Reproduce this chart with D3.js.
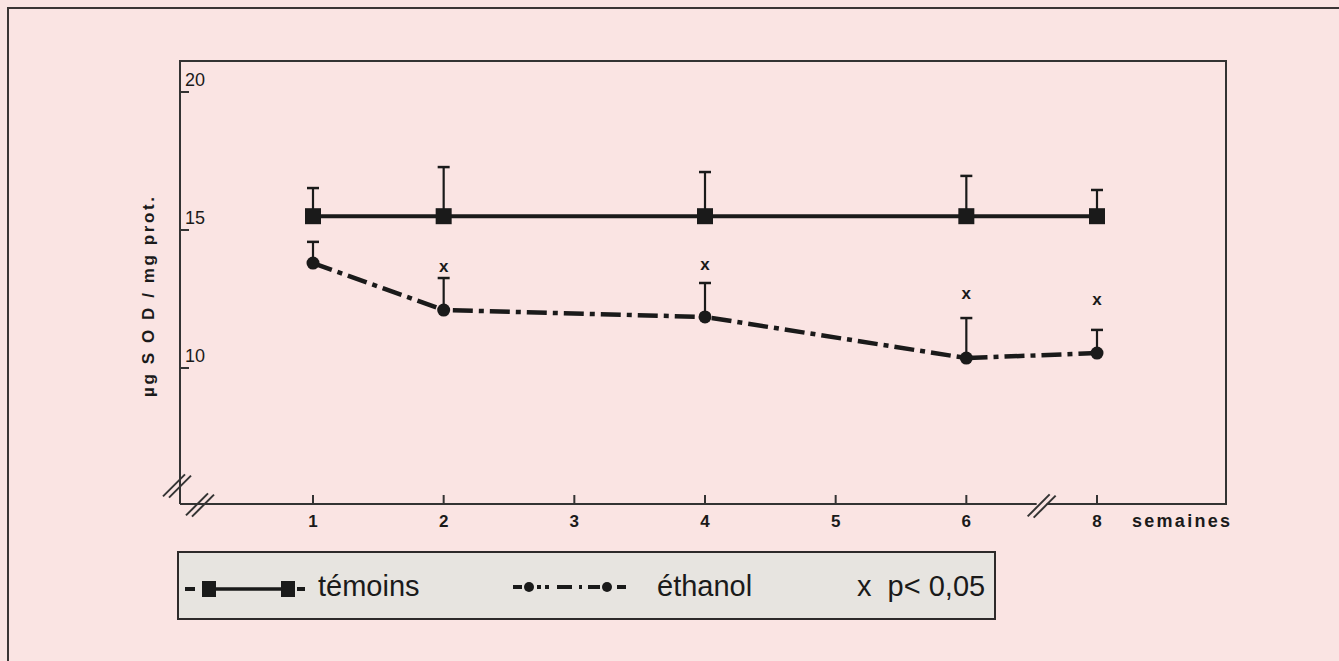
<!DOCTYPE html>
<html>
<head>
<meta charset="utf-8">
<script src="https://cdn.jsdelivr.net/npm/d3@7/dist/d3.min.js"></script>
<style>
  html, body { margin: 0; padding: 0; background: #fae4e3; }
  svg { display: block; }
</style>
</head>
<body>
<svg id="chart" width="1339" height="661"></svg>
<script>
// ---- data ----
const categories = ["1", "2", "3", "4", "5", "6", "8"];     // weeks (axis, with break 6→8)
const weeks = ["1", "2", "4", "6", "8"];                     // measured weeks
const temoins = [15.5, 15.5, 15.5, 15.5, 15.5];
const temoinsErr = [16.52, 17.28, 17.1, 16.96, 16.45];      // top of error bars
const ethanol = [13.8, 12.1, 11.85, 10.36, 10.54];
const ethanolErr = [14.57, 13.26, 13.08, 11.81, 11.38];      // top of error bars
const sigWeeks = ["2", "4", "6", "8"];
const sigY = [13.66, 13.73, 12.68, 12.46];                   // position of "x" marks
const yTicks = [10, 15, 20];
const yLabel = "µg S O D / mg prot.";
const xLabel = "semaines";
const legendLabels = ["témoins", "éthanol", "x  p< 0,05"];

// ---- layout ----
const svg = d3.select("#chart");
const L = 180, R = 1226, T = 61, B = 504;
const x = d3.scalePoint().domain(categories).range([313, 1097]);
const y = d3.scaleLinear().domain([5, 20]).range([506, 92]);
const ink = "#1a1a1a";

// outer frame
svg.append("rect").attr("x", 8).attr("y", 8).attr("width", 1345).attr("height", 670)
  .attr("fill", "#fae4e3").attr("stroke", "#3a3535").attr("stroke-width", 2);

// plot box (top + right) and axes
svg.append("path")
  .attr("d", `M${L},${B} L${L},${T} L${R},${T} L${R},${B} L${L},${B}`)
  .attr("fill", "none").attr("stroke", "#333").attr("stroke-width", 2);

// y ticks (inward) and labels
const yAxis = svg.append("g");
yAxis.selectAll("line").data(yTicks).join("line")
  .attr("x1", L).attr("x2", L + 9)
  .attr("y1", d => y(d)).attr("y2", d => y(d))
  .attr("stroke", "#333").attr("stroke-width", 2);
yAxis.selectAll("text").data(yTicks).join("text")
  .attr("x", L + 5).attr("y", d => y(d) - 6)
  .attr("font-family", "Liberation Sans, Arial, sans-serif")
  .attr("font-size", 18).attr("fill", ink)
  .text(d => d);

// x ticks (upward) and labels
const xAxis = svg.append("g");
xAxis.selectAll("line").data(categories).join("line")
  .attr("x1", d => x(d)).attr("x2", d => x(d))
  .attr("y1", B).attr("y2", B - 9)
  .attr("stroke", "#333").attr("stroke-width", 2);
xAxis.selectAll("text").data(categories).join("text")
  .attr("x", d => x(d)).attr("y", 527)
  .attr("text-anchor", "middle")
  .attr("font-family", "Liberation Sans, Arial, sans-serif")
  .attr("font-weight", "bold").attr("font-size", 17).attr("fill", ink)
  .text(d => d);

svg.append("text").attr("x", 1132).attr("y", 527)
  .attr("font-family", "Liberation Sans, Arial, sans-serif")
  .attr("font-weight", "bold").attr("font-size", 18).attr("fill", ink)
  .attr("textLength", 98).attr("lengthAdjust", "spacing")
  .text(xLabel);

// y label
svg.append("text")
  .attr("transform", "translate(154,297) rotate(-90)")
  .attr("text-anchor", "middle")
  .attr("font-family", "Liberation Sans, Arial, sans-serif")
  .attr("font-weight", "bold").attr("font-size", 17).attr("fill", ink)
  .attr("textLength", 200).attr("lengthAdjust", "spacing")
  .text(yLabel);

// axis break marks
function breakMark(cx, cy, len, dx) {
  const g = svg.append("g");
  [-dx, dx].forEach(o => {
    g.append("line")
      .attr("x1", cx - len / 2 + o).attr("y1", cy + len / 2 + o * 0.2)
      .attr("x2", cx + len / 2 + o).attr("y2", cy - len / 2 + o * 0.2)
      .attr("stroke", "#333").attr("stroke-width", 2);
  });
  return g;
}
// y-axis break (crossing the axis near the bottom)
breakMark(177, 486, 22, 3);
// x-axis break at origin
breakMark(200, 505, 22, 3);
// x-axis break between 6 and 8
const bx = (x("6") + x("8")) / 2 + 10;
svg.append("rect").attr("x", bx - 5).attr("y", B - 2).attr("width", 10).attr("height", 4)
  .attr("fill", "#fae4e3");
breakMark(bx, 506, 22, 3);

// ---- series ----
const tData = weeks.map((w, i) => ({ w, v: temoins[i], e: temoinsErr[i] }));
const eData = weeks.map((w, i) => ({ w, v: ethanol[i], e: ethanolErr[i] }));
const line = d3.line().x(d => x(d.w)).y(d => y(d.v));

// error bars
function errorBars(data) {
  const g = svg.append("g");
  g.selectAll("line.v").data(data).join("line")
    .attr("x1", d => x(d.w)).attr("x2", d => x(d.w))
    .attr("y1", d => y(d.v)).attr("y2", d => y(d.e))
    .attr("stroke", ink).attr("stroke-width", 2.2);
  g.selectAll("line.c").data(data).join("line")
    .attr("x1", d => x(d.w) - 6).attr("x2", d => x(d.w) + 6)
    .attr("y1", d => y(d.e)).attr("y2", d => y(d.e))
    .attr("stroke", ink).attr("stroke-width", 2.5);
}
errorBars(tData);
errorBars(eData);

// témoins line + squares
svg.append("path").datum(tData).attr("d", line)
  .attr("fill", "none").attr("stroke", ink).attr("stroke-width", 4);
svg.selectAll("rect.sq").data(tData).join("rect")
  .attr("x", d => x(d.w) - 8).attr("y", d => y(d.v) - 8)
  .attr("width", 16).attr("height", 16).attr("fill", ink);

// éthanol line + circles
svg.append("path").datum(eData).attr("d", line)
  .attr("fill", "none").attr("stroke", ink).attr("stroke-width", 4.5)
  .attr("stroke-dasharray", "20,6,5,6");
svg.selectAll("circle.pt").data(eData).join("circle")
  .attr("cx", d => x(d.w)).attr("cy", d => y(d.v)).attr("r", 6.5).attr("fill", ink);

// significance marks
svg.selectAll("text.sig").data(sigWeeks).join("text")
  .attr("x", d => x(d)).attr("y", (d, i) => y(sigY[i]) + 5)
  .attr("text-anchor", "middle")
  .attr("font-family", "Liberation Sans, Arial, sans-serif")
  .attr("font-weight", "bold").attr("font-size", 17).attr("fill", ink)
  .text("x");

// ---- legend ----
const lg = svg.append("g");
lg.append("rect").attr("x", 178).attr("y", 552).attr("width", 817).attr("height", 67)
  .attr("fill", "#e7e4e0").attr("stroke", "#2e2a2a").attr("stroke-width", 2);
const ly = 589;
// témoins symbol
lg.append("line").attr("x1", 185).attr("x2", 195).attr("y1", ly).attr("y2", ly).attr("stroke", ink).attr("stroke-width", 4);
lg.append("line").attr("x1", 208).attr("x2", 287).attr("y1", ly).attr("y2", ly).attr("stroke", ink).attr("stroke-width", 3.5);
lg.append("line").attr("x1", 297).attr("x2", 305).attr("y1", ly).attr("y2", ly).attr("stroke", ink).attr("stroke-width", 4);
[209, 288].forEach(cx => lg.append("rect").attr("x", cx - 7).attr("y", ly - 8).attr("width", 14).attr("height", 16).attr("fill", ink));
// éthanol symbol
const ely = 587;
[[513, 522], [537, 541], [545, 549], [557, 572], [579, 582], [588, 600], [617, 626]].forEach(s =>
  lg.append("line").attr("x1", s[0]).attr("x2", s[1]).attr("y1", ely).attr("y2", ely).attr("stroke", ink).attr("stroke-width", 4));
[529, 607].forEach(cx => lg.append("circle").attr("cx", cx).attr("cy", ely).attr("r", 5).attr("fill", ink));

const lgText = [[318, legendLabels[0]], [657, legendLabels[1]], [857, legendLabels[2]]];
lg.selectAll("text").data(lgText).join("text")
  .attr("x", d => d[0]).attr("y", 596)
  .attr("font-family", "Liberation Sans, Arial, sans-serif")
  .attr("font-size", 29).attr("fill", ink)
  .style("white-space", "pre")
  .attr("xml:space", "preserve")
  .text(d => d[1]);
</script>
</body>
</html>
